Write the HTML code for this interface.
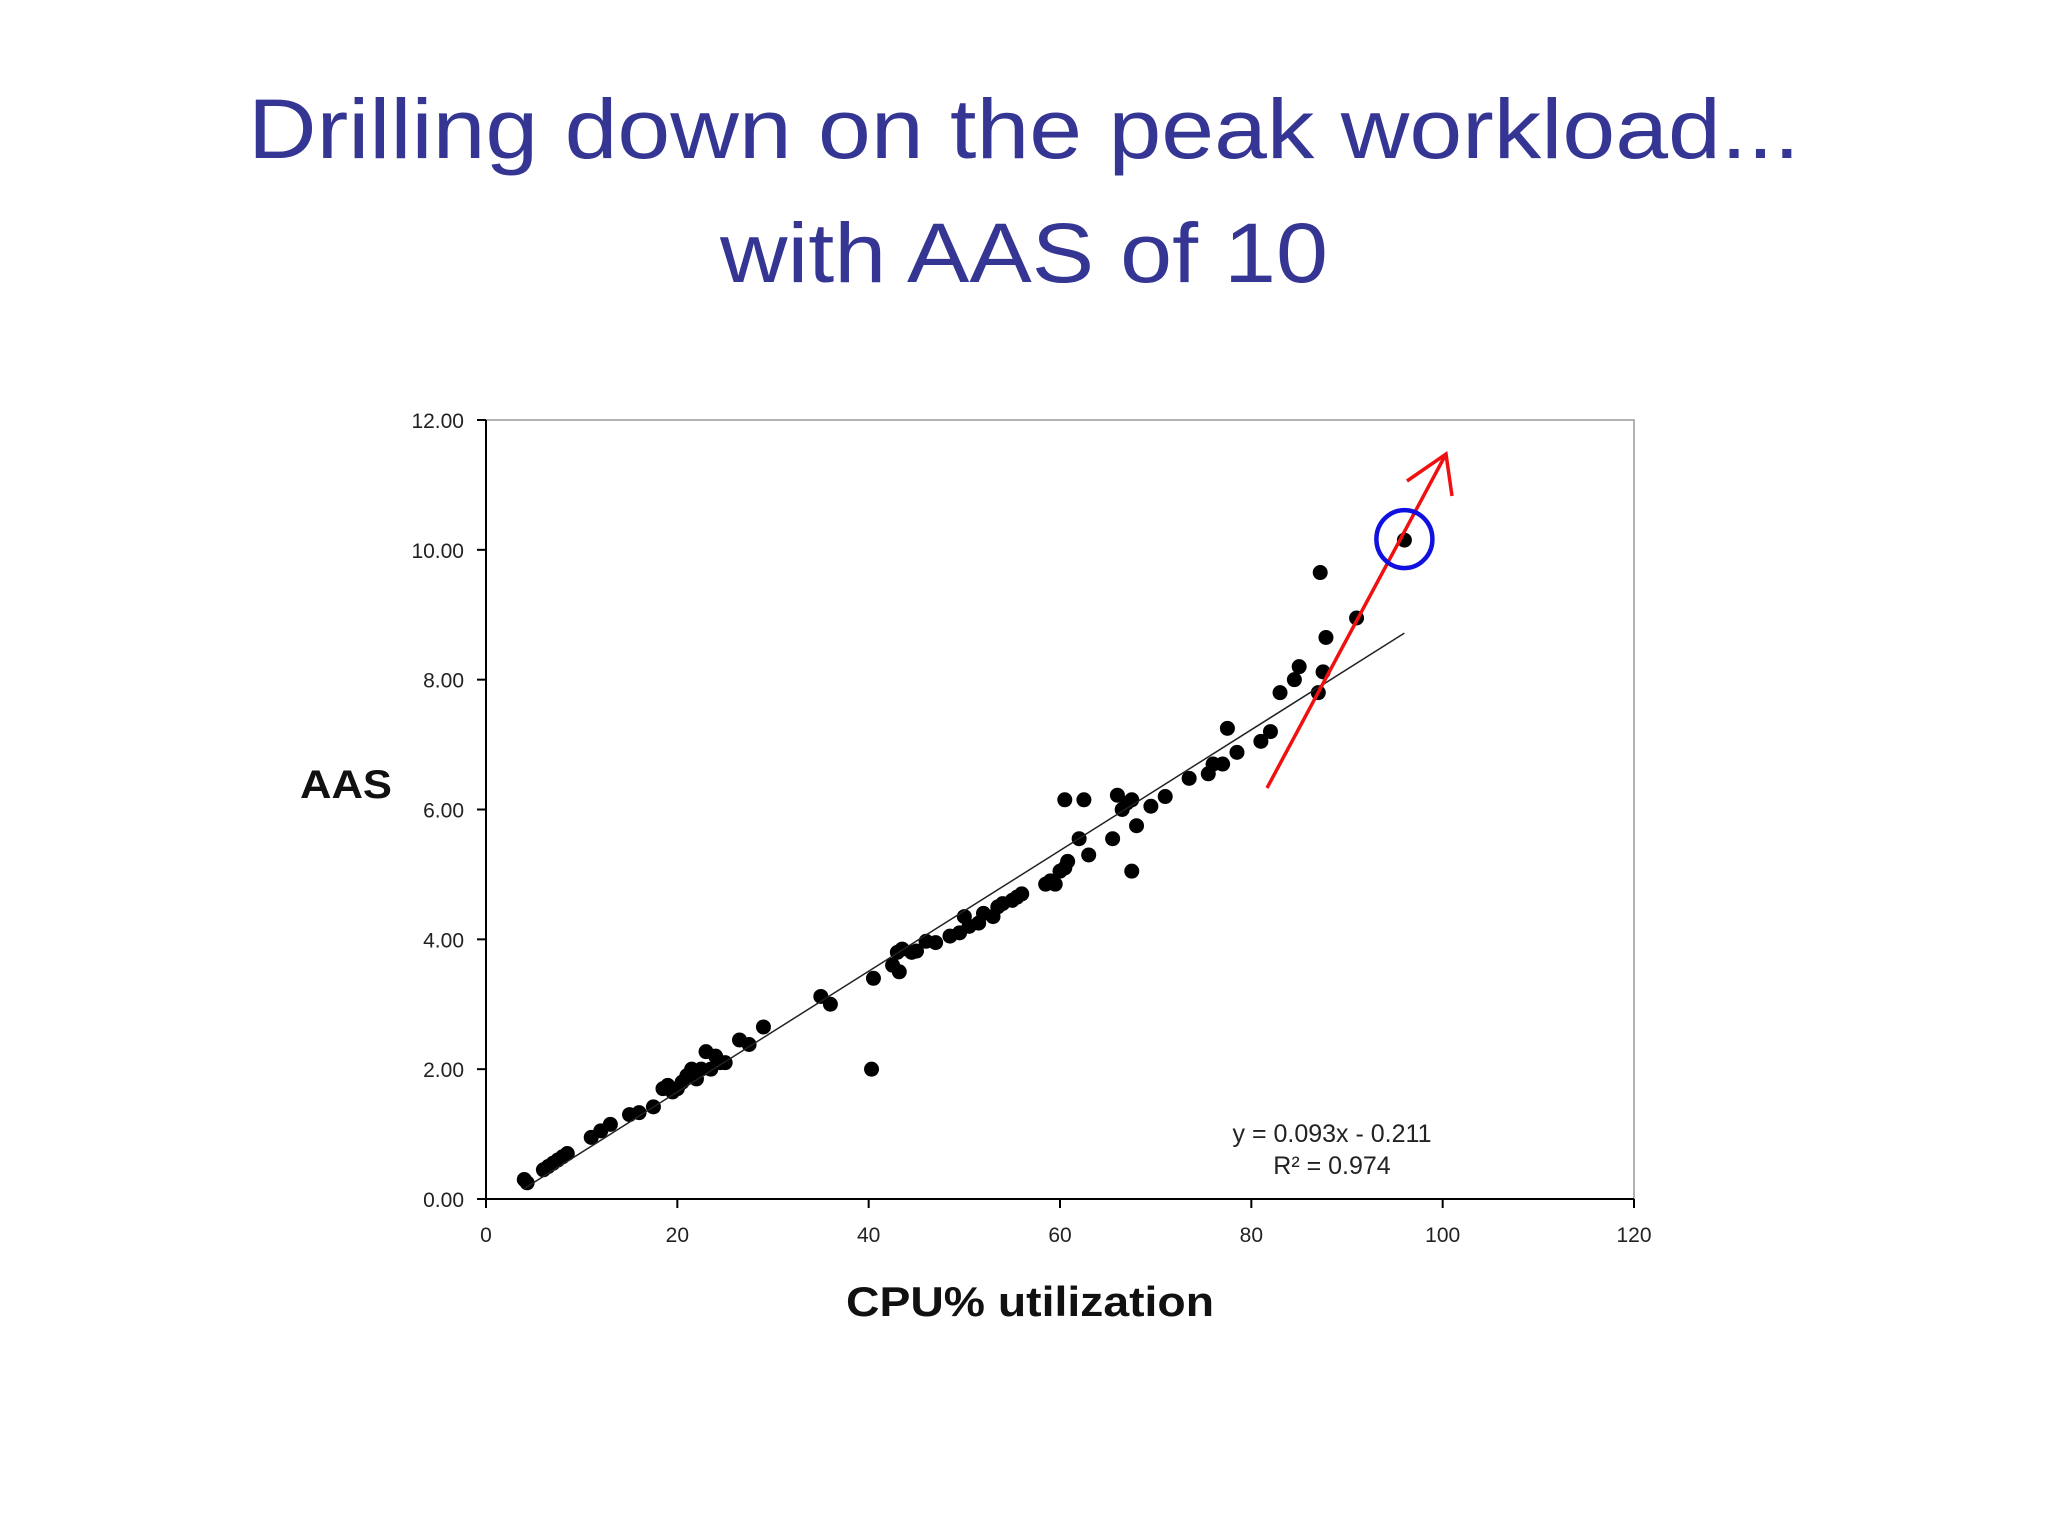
<!DOCTYPE html>
<html><head><meta charset="utf-8"><style>
html,body{margin:0;padding:0;background:#fff;}
svg{display:block;}
</style></head><body>
<svg id="chart" width="2048" height="1536" viewBox="0 0 2048 1536" xmlns="http://www.w3.org/2000/svg" font-family="Liberation Sans, sans-serif">
<text x="1024" y="158" text-anchor="middle" font-size="84" fill="#353593" textLength="1552" lengthAdjust="spacingAndGlyphs">Drilling down on the peak workload...</text>
<text x="1024" y="282" text-anchor="middle" font-size="84" fill="#353593" textLength="608" lengthAdjust="spacingAndGlyphs">with AAS of 10</text>
<g id="plot"></g>
<text x="346" y="798" text-anchor="middle" font-size="40" font-weight="bold" fill="#111" textLength="92" lengthAdjust="spacingAndGlyphs">AAS</text>
<text x="1030" y="1316" text-anchor="middle" font-size="42" font-weight="bold" fill="#111" textLength="368" lengthAdjust="spacingAndGlyphs">CPU% utilization</text>
<text x="1332" y="1142" text-anchor="middle" font-size="25" fill="#222">y = 0.093x - 0.211</text>
<text x="1332" y="1174" text-anchor="middle" font-size="25" fill="#222">R² = 0.974</text>
</svg>
<script>
const xTicks=[0,20,40,60,80,100,120];
const yTicks=[0,2,4,6,8,10,12];
const yTickLabels=["0.00","2.00","4.00","6.00","8.00","10.00","12.00"];
const cpu=[4,4.3,6,6.5,7,7.5,8,8.5,11,12,13,15,16,17.5,18.5,19,19.5,20,20.5,21,21.5,22,22.5,23,23.5,24,24.5,25,26.5,27.5,29,35,36,40.3,40.5,42.5,43,43.5,43.2,44.5,45,46,47,48.5,49.5,50,50.5,51.5,52,53,53.5,54,55,55.5,56,58.5,59,59.5,60,60.5,60.8,60.5,62,62.5,63,65.5,66,66.5,67,67.5,67.5,68,69.5,71,73.5,75.5,76,77,77.5,78.5,81,82,83,84.5,85,87,87.2,87.5,87.8,91,96];
const aas=[0.3,0.25,0.45,0.5,0.55,0.6,0.65,0.7,0.95,1.05,1.15,1.3,1.33,1.42,1.7,1.75,1.65,1.7,1.8,1.9,2.0,1.85,2.0,2.27,2.0,2.2,2.1,2.1,2.45,2.38,2.65,3.12,3.0,2.0,3.4,3.6,3.8,3.85,3.5,3.8,3.82,3.97,3.95,4.05,4.1,4.35,4.2,4.25,4.4,4.35,4.5,4.55,4.6,4.65,4.7,4.85,4.9,4.85,5.05,5.1,5.2,6.15,5.55,6.15,5.3,5.55,6.22,6.0,6.1,6.15,5.05,5.75,6.05,6.2,6.48,6.55,6.7,6.7,7.25,6.88,7.05,7.2,7.8,8.0,8.2,7.8,9.65,8.12,8.65,8.95,10.15];
const slope=[0.093], intercept=[-0.211], trendRange=[4,96];
const X0=486,X1=1634,Y0=1199,Y1=420;
const sx=v=>X0+(v-0)/120*(X1-X0);
const sy=v=>Y0-(v-0)/12*(Y0-Y1);
const NS="http://www.w3.org/2000/svg";
const g=document.getElementById('plot');
function mk(t,a){const e=document.createElementNS(NS,t);for(const k in a)e.setAttribute(k,a[k]);g.appendChild(e);return e;}
let e=mk('rect',{x:X0,y:Y1,width:X1-X0,height:Y0-Y1,fill:'none',stroke:'#999','stroke-width':1.5});


e=mk('line',{x1:X0,y1:Y0,x2:X0,y2:Y1,stroke:'#000','stroke-width':2});


e=mk('line',{x1:X0,y1:Y0,x2:X1,y2:Y0,stroke:'#000','stroke-width':2});


yTicks.forEach((v,i)=>{
 let t=mk('line',{x1:X0-9,y1:sy(v),x2:X0,y2:sy(v),stroke:'#000','stroke-width':2});
 
 
 let l=mk('text',{x:X0-22,y:sy(v)+8,'text-anchor':'end','font-size':21,fill:'#222'});
 l.textContent=yTickLabels[i];
 
 
});
xTicks.forEach(v=>{
 let t=mk('line',{x1:sx(v),y1:Y0,x2:sx(v),y2:Y0+9,stroke:'#000','stroke-width':2});
 
 
 let l=mk('text',{x:sx(v),y:Y0+43,'text-anchor':'middle','font-size':21,fill:'#222'});
 l.textContent=String(v);
 
 
});
cpu.forEach((c,i)=>{
 let p=mk('circle',{cx:sx(c),cy:sy(aas[i]),r:7.5,fill:'#000'});
 
 
});
e=mk('line',{x1:sx(trendRange[0]),y1:sy(slope[0]*trendRange[0]+intercept[0]),x2:sx(trendRange[1]),y2:sy(slope[0]*trendRange[1]+intercept[0]),stroke:'#222','stroke-width':1.5});


e=mk('path',{d:'M1267 788 L1446 454 M1407 481 L1446 454 L1452 496',fill:'none',stroke:'#f01010','stroke-width':3.5});


e=mk('ellipse',{cx:sx(96),cy:sy(10.15)-1,rx:28,ry:29,fill:'none',stroke:'#1010e0','stroke-width':4.5});


</script>
</body></html>
